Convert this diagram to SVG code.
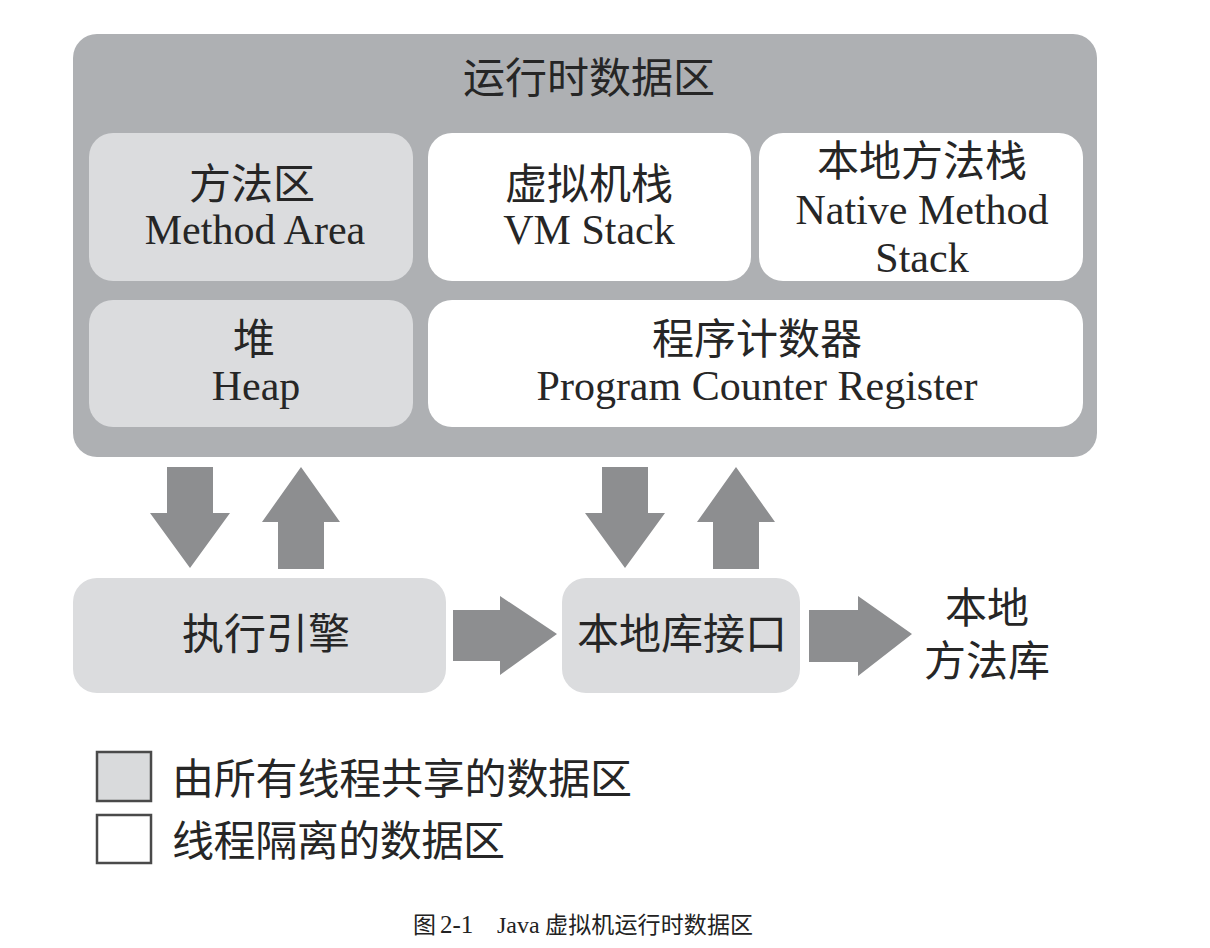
<svg xmlns="http://www.w3.org/2000/svg" width="1210" height="948" viewBox="0 0 1210 948">
<style>
.t{font-family:"Liberation Serif","Noto Sans CJK SC",serif;font-size:42px;fill:#262626;text-anchor:middle}
.shared{fill:#dbdcde}
.private{fill:#ffffff}
.arrow{fill:#8d8e90}
.leg{stroke:#4a4a4a;stroke-width:2.5}
.cap{font-family:"Liberation Serif","Noto Sans CJK SC",serif;font-size:23px;fill:#222}
</style>
<rect width="1210" height="948" fill="#ffffff"/>
<g id="runtime-data-area">
<rect x="73" y="34" width="1024" height="423" rx="24" fill="#aeb0b3"/>
<text class="t" x="589" y="93">运行时数据区</text>
</g>
<g id="method-area">
<rect class="shared" x="89" y="133" width="324" height="148" rx="24"/>
<text class="t" x="252" y="199">方法区</text>
<text class="t" x="255" y="244">Method Area</text>
</g>
<g id="vm-stack">
<rect class="private" x="428" y="133" width="323" height="148" rx="24"/>
<text class="t" x="589" y="199">虚拟机栈</text>
<text class="t" x="589" y="244">VM Stack</text>
</g>
<g id="native-method-stack">
<rect class="private" x="759" y="133" width="324" height="148" rx="24"/>
<text class="t" x="922" y="176">本地方法栈</text>
<text class="t" x="922" y="224">Native Method</text>
<text class="t" x="922" y="272">Stack</text>
</g>
<g id="heap">
<rect class="shared" x="89" y="300" width="324" height="127" rx="24"/>
<text class="t" x="254" y="354">堆</text>
<text class="t" x="256" y="400">Heap</text>
</g>
<g id="pc-register">
<rect class="private" x="428" y="300" width="655" height="127" rx="24"/>
<text class="t" x="757" y="354">程序计数器</text>
<text class="t" x="757" y="400">Program Counter Register</text>
</g>
<g id="execution-engine">
<rect class="shared" x="73" y="578" width="373" height="115" rx="24"/>
<text class="t" x="266" y="649">执行引擎</text>
</g>
<g id="native-interface">
<rect class="shared" x="562" y="578" width="238" height="115" rx="24"/>
<text class="t" x="682" y="649">本地库接口</text>
</g>
<g id="native-library">
<text class="t" x="987" y="623">本地</text>
<text class="t" x="987" y="676">方法库</text>
</g>
<g id="connectors">
<polygon class="arrow" points="167,467 213,467 213,513 230,513 190,568 150,513 167,513"/>
<polygon class="arrow" points="301,467 340,522 324,522 324,569 278,569 278,522 262,522"/>
<polygon class="arrow" points="602,467 648,467 648,513 665,513 625,568 585,513 602,513"/>
<polygon class="arrow" points="736,467 775,522 759,522 759,569 713,569 713,522 697,522"/>
<polygon class="arrow" points="453,610 500,610 500,596 557,634 500,675 500,661 453,661"/>
<polygon class="arrow" points="809,610 858,610 858,596 912,634 858,676 858,662 809,662"/>
</g>
<g id="legend">
<rect class="leg" x="97" y="752" width="54" height="49" fill="#d9dadc"/>
<rect class="leg" x="97" y="815" width="54" height="48" fill="#ffffff"/>
<text class="t" x="172" y="794" style="text-anchor:start" textLength="460">由所有线程共享的数据区</text>
<text class="t" x="172" y="856" style="text-anchor:start" textLength="333">线程隔离的数据区</text>
</g>
<g id="caption">
<text class="cap" x="413" y="933">图<tspan x="440" style="font-size:25px">2-1</tspan><tspan x="497" style="font-size:24px">Java</tspan><tspan x="545" textLength="208">虚拟机运行时数据区</tspan></text>
</g>
</svg>
